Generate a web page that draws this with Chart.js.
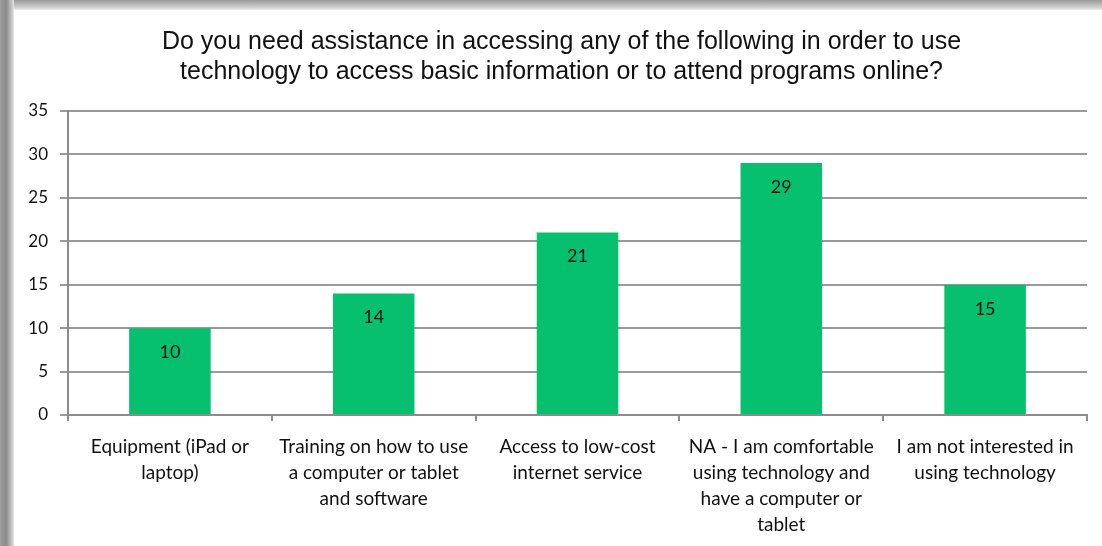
<!DOCTYPE html>
<html>
<head>
<meta charset="utf-8">
<script src="https://cdn.jsdelivr.net/npm/chart.js@4/dist/chart.umd.min.js"></script>
<style>
  html, body { margin: 0; padding: 0; }
  body {
    width: 1102px; height: 546px; overflow: hidden; position: relative;
    background: linear-gradient(to bottom, #9a9a9a 0px, #d4d4d4 8px, #ffffff 11px);
  }
  .shadow-left {
    position: absolute; left: 0; top: 0; width: 14px; height: 546px;
    background: linear-gradient(to right, #a0a0a0 0px, #8a8a8a 6px, #c8c8c8 12px, #e8e8e8 14px);
  }
  .frame {
    position: absolute; left: 14px; top: 10px; width: 1088px; height: 536px;
    background: #fff;
  }
</style>
</head>
<body>
<div class="shadow-left"></div>
<div class="frame"><canvas id="grafico" width="1088" height="536"></canvas></div>
<script>
const categorias = [
  ["Equipment (iPad or", "laptop)"],
  ["Training on how to use", "a computer or tablet", "and software"],
  ["Access to low-cost", "internet service"],
  ["NA - I am comfortable", "using technology and", "have a computer or", "tablet"],
  ["I am not interested in", "using technology"]
];
const respuestas = [10, 14, 21, 29, 15];
const titulo = [
  "Do you need assistance in accessing any of the following in order to use",
  "technology to access basic information or to attend programs online?"
];

// etiquetas de valor dentro de cada barra
const etiquetasValor = {
  id: "etiquetasValor",
  beforeDraw(chart) {
    // el título del original queda algo a la derecha del centro
    const t = chart.titleBlock;
    if (t) { t.left = 22; t.right = chart.width - 15; }
  },
  afterDatasetsDraw(chart) {
    const ctx = chart.ctx;
    const meta = chart.getDatasetMeta(0);
    ctx.save();
    ctx.font = "18px Lato";
    ctx.fillStyle = "#111";
    ctx.textAlign = "center";
    ctx.textBaseline = "middle";
    meta.data.forEach((barra, i) => {
      ctx.fillText(String(respuestas[i]), barra.x, barra.y + 24);
    });
    ctx.restore();
  }
};

new Chart(document.getElementById("grafico"), {
  type: "bar",
  data: {
    labels: categorias,
    datasets: [{
      data: respuestas,
      backgroundColor: "#06bf6f",
      borderWidth: 0,
      barPercentage: 0.8,
      categoryPercentage: 0.5
    }]
  },
  options: {
    responsive: false,
    animation: false,
    layout: { padding: { left: 0, right: 15, top: 0, bottom: 0 } },
    plugins: {
      legend: { display: false },
      tooltip: { enabled: false },
      title: {
        display: true,
        text: titulo,
        color: "#111",
        font: { family: "Liberation Sans", size: 25, weight: "normal", lineHeight: 1.2 },
        padding: { top: 17, bottom: 24 }
      }
    },
    scales: {
      x: {
        grid: { drawOnChartArea: false, color: "#8c8c8c", lineWidth: 2, tickLength: 6 },
        border: { color: "#8c8c8c", width: 2 },
        ticks: {
          color: "#111",
          font: { family: "Lato", size: 19, lineHeight: 1.37 },
          maxRotation: 0,
          autoSkip: false,
          padding: 13
        },
        afterFit(escala) { escala.height = 131; }
      },
      y: {
        min: 0,
        max: 35,
        grid: { color: "#9a9a9a", lineWidth: 2, tickLength: 8 },
        border: { color: "#8c8c8c", width: 2 },
        ticks: {
          stepSize: 5,
          color: "#111",
          font: { family: "Lato", size: 17 },
          padding: 12
        },
        afterFit(escala) { escala.width = 54; }
      }
    }
  },
  plugins: [etiquetasValor]
});
</script>
</body>
</html>
